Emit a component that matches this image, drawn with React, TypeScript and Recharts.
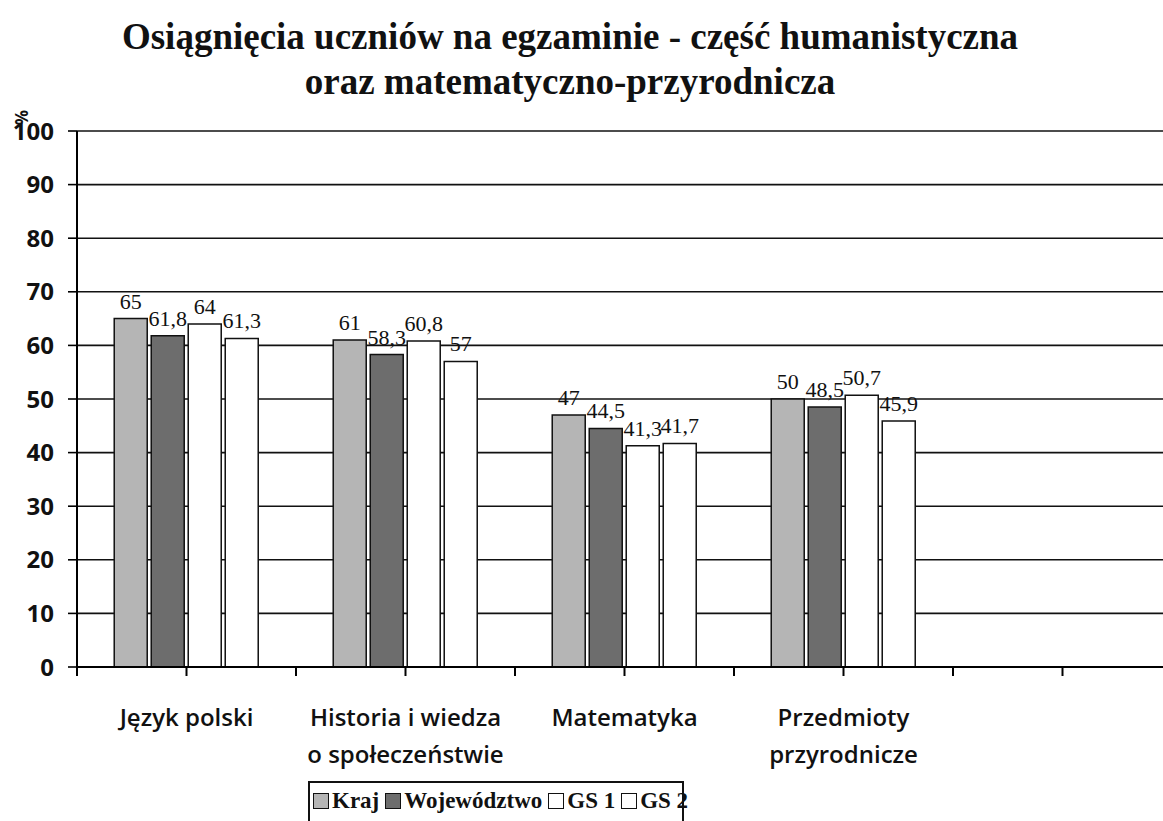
import { BarChart, Bar, XAxis, YAxis, CartesianGrid, LabelList } from "recharts";

const categories = ["Język polski", "Historia i wiedza\no społeczeństwie", "Matematyka", "Przedmioty\nprzyrodnicze", ""];
const kraj = [65, 61, 47, 50, null];
const wojewodztwo = [61.8, 58.3, 44.5, 48.5, null];
const gs1 = [64, 60.8, 41.3, 50.7, null];
const gs2 = [61.3, 57, 41.7, 45.9, null];
const yTicks = [0, 10, 20, 30, 40, 50, 60, 70, 80, 90, 100];

const series = [
  { key: "kraj", name: "Kraj", fill: "#b5b5b5" },
  { key: "woj", name: "Województwo", fill: "#6d6d6d" },
  { key: "gs1", name: "GS 1", fill: "#ffffff" },
  { key: "gs2", name: "GS 2", fill: "#ffffff" },
];

const data = categories.map((name, i) => ({
  name,
  kraj: kraj[i],
  woj: wojewodztwo[i],
  gs1: gs1[i],
  gs2: gs2[i],
}));

const W = 1180;
const H = 821;
const TOP = 131;
const Y_AXIS_W = 77;
const RIGHT = 8;
const X_AXIS_H = 154;
const AXIS_Y = H - X_AXIS_H;
const BAND = (W - Y_AXIS_W - RIGHT) / categories.length;

const SERIF = "'Liberation Serif', 'Times New Roman', serif";
const SANS = "'Open Sans', sans-serif";

const fmt = (v: any) => (v == null ? "" : String(v).replace(".", ","));

function CategoryTick(props: any) {
  const { x, payload, index } = props;
  const lines = String(payload.value).split("\n");
  return (
    <g>
      <line x1={x - BAND / 2} y1={AXIS_Y} x2={x - BAND / 2} y2={AXIS_Y + 9} stroke="#000" strokeWidth={2} />
      {index === categories.length - 1 && (
        <line x1={x + BAND / 2} y1={AXIS_Y} x2={x + BAND / 2} y2={AXIS_Y + 9} stroke="#000" strokeWidth={2} />
      )}
      <text
        x={x}
        y={AXIS_Y + 59}
        textAnchor="middle"
        fill="#111"
        style={{ fontFamily: SANS, fontSize: 24, fontWeight: 600 }}
      >
        {lines.map((l, i) => (
          <tspan key={i} x={x} dy={i === 0 ? 0 : 37}>
            {l}
          </tspan>
        ))}
      </text>
    </g>
  );
}

export default function App() {
  return (
    <div style={{ position: "relative", width: 1163, height: 821, overflow: "hidden", background: "#fff" }}>
      <style>{"body{margin:0}"}</style>
      <div
        style={{
          position: "absolute",
          left: 570,
          top: 14,
          transform: "translateX(-50%)",
          whiteSpace: "nowrap",
          textAlign: "center",
          fontFamily: SERIF,
          fontWeight: 700,
          fontSize: 37,
          lineHeight: "45px",
          color: "#111",
        }}
      >
        <div>Osiągnięcia uczniów na egzaminie - część humanistyczna</div>
        <div>oraz matematyczno-przyrodnicza</div>
      </div>
      <div
        style={{
          position: "absolute",
          left: 14,
          top: 106,
          fontFamily: SANS,
          fontWeight: 700,
          fontSize: 17,
          color: "#111",
          transform: "rotate(-90deg)",
        }}
      >
        %
      </div>
      <div style={{ position: "absolute", left: 0, top: 0 }}>
        <BarChart
          width={W}
          height={H}
          data={data}
          margin={{ top: TOP, right: RIGHT, bottom: 0, left: 0 }}
          barCategoryGap="17%"
          barGap={4}
        >
          <CartesianGrid vertical={false} stroke="#111" strokeWidth={1.6} />
          <YAxis
            domain={[0, 100]}
            ticks={yTicks}
            width={Y_AXIS_W}
            tickSize={9}
            tickMargin={14}
            axisLine={{ stroke: "#000", strokeWidth: 2 }}
            tickLine={{ stroke: "#000", strokeWidth: 1.6 }}
            tick={{ fill: "#111", fontFamily: SANS, fontSize: 24, fontWeight: 700 }}
            interval={0}
          />
          <XAxis
            dataKey="name"
            height={X_AXIS_H}
            interval={0}
            tickSize={9}
            axisLine={{ stroke: "#000", strokeWidth: 2 }}
            tickLine={{ stroke: "#000", strokeWidth: 2 }}
            tick={<CategoryTick />}
          />
          {series.map((s) => (
            <Bar
              key={s.key}
              dataKey={s.key}
              name={s.name}
              fill={s.fill}
              stroke="#111"
              strokeWidth={1.5}
              isAnimationActive={false}
            >
              <LabelList
                dataKey={s.key}
                position="top"
                offset={10}
                formatter={fmt}
                style={{ fill: "#111", fontFamily: SERIF, fontSize: 22 }}
              />
            </Bar>
          ))}
        </BarChart>
      </div>
      <div
        style={{
          position: "absolute",
          left: 308,
          top: 781,
          width: 376,
          height: 60,
          border: "2px solid #111",
          boxSizing: "border-box",
          display: "flex",
          alignItems: "flex-start",
          paddingTop: 5,
          paddingLeft: 3,
          fontFamily: SERIF,
          fontWeight: 700,
          fontSize: 23,
          color: "#111",
          whiteSpace: "nowrap",
        }}
      >
        {series.map((s) => (
          <span key={s.key} style={{ display: "inline-flex", alignItems: "center", marginRight: 6 }}>
            <span
              style={{
                display: "inline-block",
                width: 14,
                height: 14,
                background: s.fill,
                border: "1.5px solid #111",
                marginRight: 3,
              }}
            />
            {s.name}
          </span>
        ))}
      </div>
    </div>
  );
}
